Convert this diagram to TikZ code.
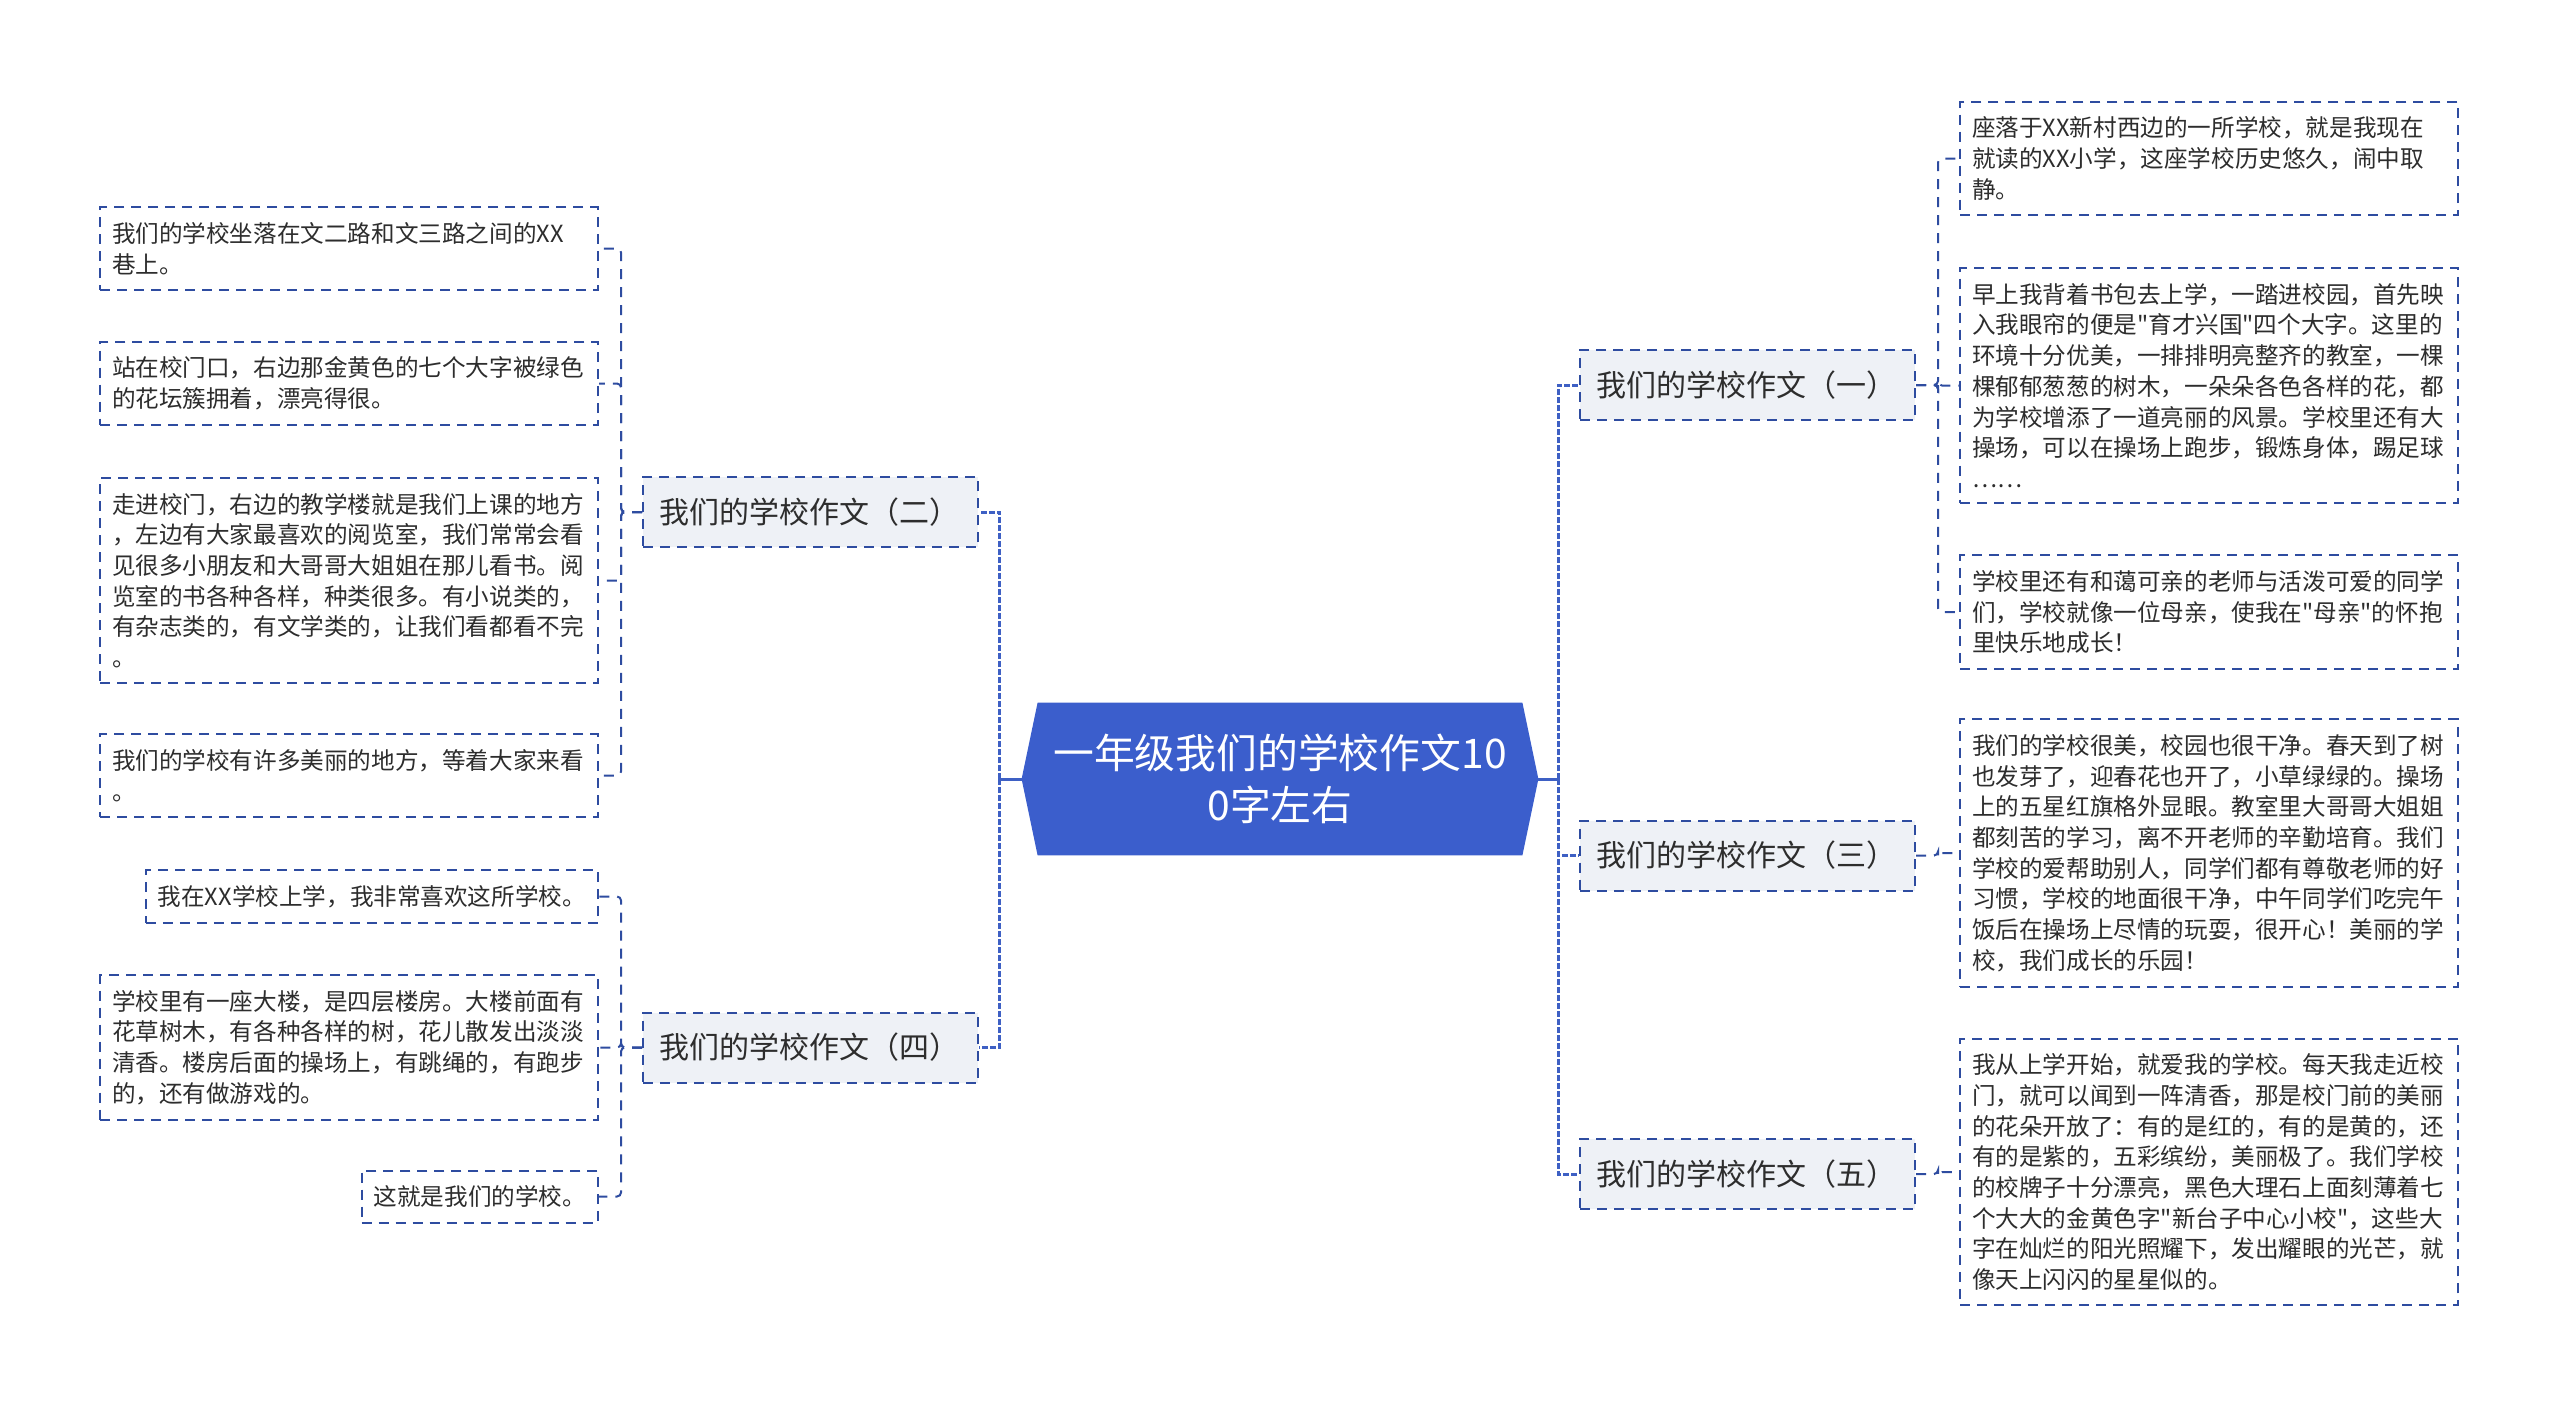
\documentclass[tikz,border=0pt]{standalone}
\usepackage{fontspec}
\setmainfont{Noto Sans CJK SC}[Ligatures = TeXOff]
\usetikzlibrary{backgrounds}

\definecolor{rootblue}{RGB}{59,94,204}
\definecolor{linkblue}{RGB}{46,76,160}
\definecolor{trunkblue}{RGB}{62,96,196}
\definecolor{topicfill}{RGB}{238,241,246}
\definecolor{inktext}{RGB}{45,45,45}

\begin{document}
\begin{tikzpicture}[x = 0.5pt, y = -0.5pt,
	leaf/.style = {draw = linkblue, line width = 1pt, dash pattern = on 5pt off 3.5pt, fill = white, text = inktext,
		font = \fontsize{11.8pt}{15.35pt}\selectfont, align = left, inner xsep = 6pt, inner ysep = 7.5pt},
	wide/.style = {leaf, text width = 237pt},
	topic/.style = {draw = linkblue, line width = 1pt, dash pattern = on 5pt off 3.5pt, fill = topicfill, text = inktext,
		font = \fontsize{15pt}{18pt}\selectfont, text width = 151.5pt, align = left, inner xsep = 8pt, minimum height = 35pt},
	root/.style = {text = white, font = \fontsize{20.4pt}{26pt}\selectfont, align = center,
		minimum width = 242pt, minimum height = 76pt, inner sep = 0pt},
	trunk/.style = {draw = trunkblue, line width = 1.5pt},
	bus/.style = {trunk, dash pattern = on 3pt off 1pt},
	twig/.style = {draw = linkblue, line width = 1pt, dash pattern = on 5pt off 4pt, rounded corners = 2pt}]

% Definitions

\useasboundingbox (0, 0) rectangle (2560, 1409);

% Root

\node [root] (root) at (1280, 779) {一年级我们的学校作文10\\0字左右};

\begin{scope}[on background layer]
	\fill [rootblue] (root.north west) -- (root.north east) -- ([xshift = 8pt] root.east) -- (root.south east)
		-- (root.south west) -- ([xshift = -8pt] root.west) -- cycle;
\end{scope}

% Topics

\node [topic] (w2) at (810.5, 512) {我们的学校作文（二）};
\node [topic] (w4) at (810.5, 1047.5) {我们的学校作文（四）};
\node [topic] (e1) at (1747.5, 385) {我们的学校作文（一）};
\node [topic] (e3) at (1747.5, 855.5) {我们的学校作文（三）};
\node [topic] (e5) at (1747.5, 1174) {我们的学校作文（五）};

% Left leaves

\node [wide, anchor = east] (l1) at (599, 248.5) {我们的学校坐落在文二路和文三路之间的XX\\巷上。};
\node [wide, anchor = east] (l2) at (599, 383.5) {站在校门口，右边那金黄色的七个大字被绿色\\的花坛簇拥着，漂亮得很。};
\node [wide, anchor = east] (l3) at (599, 580.5) {走进校门，右边的教学楼就是我们上课的地方\\，左边有大家最喜欢的阅览室，我们常常会看\\见很多小朋友和大哥哥大姐姐在那儿看书。阅\\览室的书各种各样，种类很多。有小说类的，\\有杂志类的，有文学类的，让我们看都看不完\\。};
\node [wide, anchor = east] (l4) at (599, 775.5) {我们的学校有许多美丽的地方，等着大家来看\\。};
\node [leaf, anchor = east] (l5) at (599, 896.5) {我在XX学校上学，我非常喜欢这所学校。};
\node [wide, anchor = east] (l6) at (599, 1047.5) {学校里有一座大楼，是四层楼房。大楼前面有\\花草树木，有各种各样的树，花儿散发出淡淡\\清香。楼房后面的操场上，有跳绳的，有跑步\\的，还有做游戏的。};
\node [leaf, anchor = east] (l7) at (599, 1196.5) {这就是我们的学校。};

% Right leaves

\node [wide, anchor = west] (r1) at (1959, 158.5) {座落于XX新村西边的一所学校，就是我现在\\就读的XX小学，这座学校历史悠久，闹中取\\静。};
\node [wide, anchor = west] (r2) at (1959, 385.5) {早上我背着书包去上学，一踏进校园，首先映\\入我眼帘的便是"育才兴国"四个大字。这里的\\环境十分优美，一排排明亮整齐的教室，一棵\\棵郁郁葱葱的树木，一朵朵各色各样的花，都\\为学校增添了一道亮丽的风景。学校里还有大\\操场，可以在操场上跑步，锻炼身体，踢足球\\……};
\node [wide, anchor = west] (r3) at (1959, 612) {学校里还有和蔼可亲的老师与活泼可爱的同学\\们，学校就像一位母亲，使我在"母亲"的怀抱\\里快乐地成长！};
\node [wide, anchor = west] (r4) at (1959, 853) {我们的学校很美，校园也很干净。春天到了树\\也发芽了，迎春花也开了，小草绿绿的。操场\\上的五星红旗格外显眼。教室里大哥哥大姐姐\\都刻苦的学习，离不开老师的辛勤培育。我们\\学校的爱帮助别人，同学们都有尊敬老师的好\\习惯，学校的地面很干净，中午同学们吃完午\\饭后在操场上尽情的玩耍，很开心！美丽的学\\校，我们成长的乐园！};
\node [wide, anchor = west] (r5) at (1959, 1172) {我从上学开始，就爱我的学校。每天我走近校\\门，就可以闻到一阵清香，那是校门前的美丽\\的花朵开放了：有的是红的，有的是黄的，还\\有的是紫的，五彩缤纷，美丽极了。我们学校\\的校牌子十分漂亮，黑色大理石上面刻薄着七\\个大大的金黄色字"新台子中心小校"，这些大\\字在灿烂的阳光照耀下，发出耀眼的光芒，就\\像天上闪闪的星星似的。};

% Trunk

\draw [trunk] ([xshift = -8pt] root.west) -- ++(-22, 0) coordinate (lbus);
\draw [trunk] ([xshift = 8pt] root.east) -- ++(20, 0) coordinate (rbus);

\foreach \t in {w2, w4}
	\draw [bus] (lbus) |- (\t.east);
\foreach \t in {e1, e3, e5}
	\draw [bus] (rbus) |- (\t.west);

% Twigs

\foreach \l in {l1, l2, l3, l4}
	\draw [twig] (w2.west) -- ++(-21, 0) |- (\l.east);
\foreach \l in {l5, l6, l7}
	\draw [twig] (w4.west) -- ++(-21, 0) |- (\l.east);
\foreach \r in {r1, r2, r3}
	\draw [twig] (e1.east) -- ++(22, 0) |- (\r.west);
\draw [twig] (e3.east) -- ++(22, 0) |- (r4.west);
\draw [twig] (e5.east) -- ++(22, 0) |- (r5.west);

\end{tikzpicture}
\end{document}
